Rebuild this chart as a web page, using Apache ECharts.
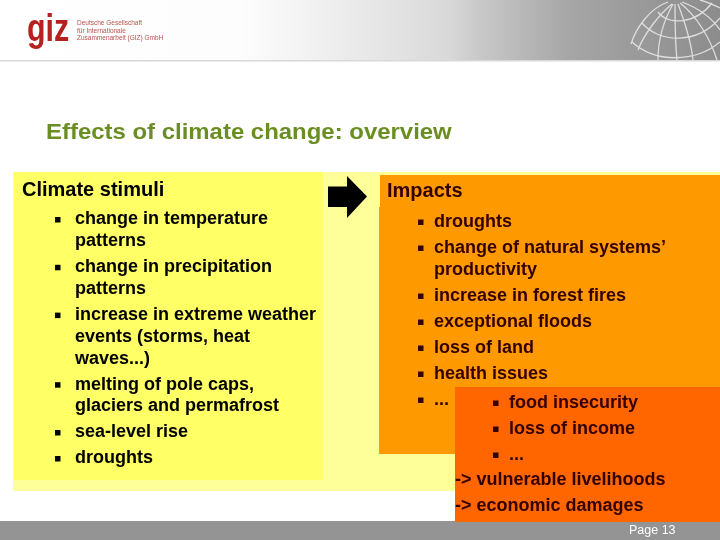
<!DOCTYPE html>
<html>
<head>
<meta charset="utf-8">
<style>html,body{margin:0;padding:0;background:#fff}#main{width:720px;height:540px}</style>
<script src="https://cdn.jsdelivr.net/npm/echarts@6/dist/echarts.min.js"></script>
</head>
<body>
<div id="main"></div>
<script>
var titleText = 'Effects of climate change: overview';
var pageLabel = 'Page 13';
var logoWord = 'giz';
var logoLines = ['Deutsche Gesellschaft', 'für Internationale', 'Zusammenarbeit (GIZ) GmbH'];

var leftHeading = 'Climate stimuli';
var leftItems = [
  ['change in temperature', 'patterns'],
  ['change in precipitation', 'patterns'],
  ['increase in extreme weather', 'events (storms, heat', 'waves...)'],
  ['melting of pole caps,', 'glaciers and permafrost'],
  ['sea-level rise'],
  ['droughts']
];

var rightHeading = 'Impacts';
var rightItems = [
  ['droughts'],
  ['change of natural systems\u2019', 'productivity'],
  ['increase in forest fires'],
  ['exceptional floods'],
  ['loss of land'],
  ['health issues'],
  ['...']
];

var lowerItems = [['food insecurity'], ['loss of income'], ['...']];
var lowerLines = ['-> vulnerable livelihoods', '-> economic damages'];

var FONT = '"Liberation Sans", Arial, sans-serif';
var graphics = [];

function box(x, y, w, h, fill) {
  graphics.push({ type: 'rect', shape: { x: x, y: y, width: w, height: h }, style: { fill: fill }, silent: true });
}

function label(str, x, y, size, color, bold, scaleX) {
  graphics.push({
    type: 'text', silent: true, x: x, y: y, scaleX: scaleX || 1,
    style: {
      text: str, x: 0, y: 0, fill: color, verticalAlign: 'middle',
      font: (bold ? 'bold ' : '') + size + 'px ' + FONT
    }
  });
}

// bullet list, wrapped lines sit closer together than the items
function bulletList(items, bulletX, textX, startY, wrapGap, itemGap, color) {
  var y = startY;
  items.forEach(function (lines) {
    box(bulletX, y - 2.5, 5.5, 5.5, color);
    lines.forEach(function (ln, i) {
      if (i > 0) y += wrapGap;
      label(ln, textX, y, 18, color, true);
    });
    y += itemGap;
  });
}

// header band
graphics.push({
  type: 'rect', shape: { x: 0, y: 0, width: 720, height: 60 }, silent: true,
  style: {
    fill: new echarts.graphic.LinearGradient(0, 0, 1, 0, [
      { offset: 0, color: '#ffffff' },
      { offset: 0.333, color: '#fdfdfd' },
      { offset: 0.444, color: '#f0f0f0' },
      { offset: 0.556, color: '#e2e2e2' },
      { offset: 0.625, color: '#d8d8d8' },
      { offset: 0.667, color: '#c8c8c8' },
      { offset: 0.79, color: '#a6a6a6' },
      { offset: 1, color: '#8c8c8c' }
    ])
  }
});
box(0, 60, 720, 1.5, '#d8d8d8');

// globe, only decoration: x1,y1, cp1x,cp1y, cp2x,cp2y, x2,y2
var globeCurves = [
  [658, 12, 668, 26, 696, 24, 712, 3],
  [642, 23, 660, 44, 698, 44, 720, 18],
  [632, 42, 655, 63, 695, 63, 720, 42],
  [631, 44, 636, 28, 650, 8, 668, 2],
  [700, 0, 708, 2, 714, 5, 720, 8],
  [672, 4, 660, 14, 645, 32, 638, 50],
  [673, 4, 664, 20, 658, 40, 658, 60],
  [675, 4, 675, 20, 675, 40, 677, 60],
  [678, 4, 684, 20, 691, 40, 693, 60],
  [680, 3, 696, 15, 710, 38, 717, 60],
  [682, 2, 698, 8, 712, 18, 720, 30]
];
globeCurves.forEach(function (c) {
  graphics.push({
    type: 'bezierCurve', silent: true,
    shape: { x1: c[0], y1: c[1], cpx1: c[2], cpy1: c[3], cpx2: c[4], cpy2: c[5], x2: c[6], y2: c[7] },
    style: { fill: null, stroke: '#dedede', lineWidth: 1.3 }
  });
});

// logo
label(logoWord, 27, 31, 38, '#b5211f', true, 0.8);
logoLines.forEach(function (ln, i) {
  label(ln, 77, 23.5 + i * 7.5, 6.5, '#b8504c', false);
});

// title, the original is letter spaced so stretch it to the same width
label(titleText, 46, 133, 22, '#6b8e23', true, 1.088);

// panels
box(13, 172, 707, 319, '#ffff99');
box(14, 172, 309, 308, '#ffff66');
box(380, 175, 340, 279, '#ff9900');
box(379, 207, 1, 247, '#ff9900');
box(455, 387, 265, 135, '#ff6600');
box(0, 521, 455, 19, '#949494');
box(455, 522, 265, 18, '#949494');

// arrow
graphics.push({
  type: 'polygon', silent: true,
  shape: { points: [[328, 186.5], [347, 186.5], [347, 176], [367, 196.5], [347, 218], [347, 207], [328, 207]] },
  style: { fill: '#000000' }
});

// left panel
label(leftHeading, 22, 190, 20, '#000000', true);
bulletList(leftItems, 55, 75, 219.5, 21.8, 26, '#000000');

// right panel
label(rightHeading, 387, 191, 20, '#330000', true);
bulletList(rightItems, 418, 434, 222, 22, 26, '#330000');

// lower overlay
bulletList(lowerItems, 493, 509, 403, 22, 26, '#330000');
lowerLines.forEach(function (ln, i) {
  label(ln, 455, 480 + i * 26, 18, '#330000', true);
});

label(pageLabel, 629, 531, 12.5, '#ffffff', false);

var chart = echarts.init(document.getElementById('main'));
chart.setOption({ animation: false, graphic: { elements: graphics } });
</script>
</body>
</html>
